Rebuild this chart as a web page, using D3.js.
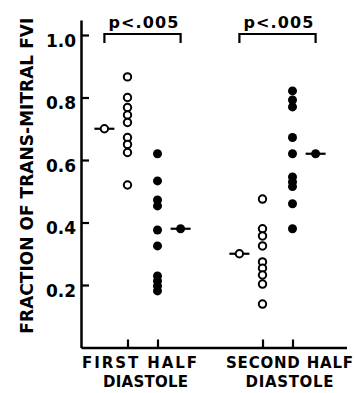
<!DOCTYPE html>
<html>
<head>
<meta charset="utf-8">
<script src="https://cdn.jsdelivr.net/npm/d3@7"></script>
<style>
  body { margin: 0; background: #fff; }
  svg { display: block; }
  text { font-family: "DejaVu Sans", sans-serif; font-weight: bold; fill: #000; }
</style>
</head>
<body>
<svg id="chart" width="356" height="393"></svg>
<script>
const groups = ["FIRST HALF", "SECOND HALF"];
const openFirst = [0.866, 0.80, 0.768, 0.744, 0.72, 0.672, 0.65, 0.624, 0.52];
const filledFirst = [0.62, 0.533, 0.472, 0.453, 0.376, 0.325, 0.229, 0.213, 0.197, 0.181];
const openSecond = [0.475, 0.38, 0.357, 0.325, 0.274, 0.254, 0.232, 0.203, 0.139];
const filledSecond = [0.821, 0.792, 0.77, 0.672, 0.62, 0.546, 0.53, 0.515, 0.46, 0.38];
const meanOpen = [0.70, 0.30];
const meanFilled = [0.38, 0.62];
const yTicks = [0.2, 0.4, 0.6, 0.8, 1.0];
const pLabels = ["p<.005", "p<.005"];

// column positions in x units
const openCol = [1.55, 6.05];
const filledCol = [2.55, 7.05];
const meanOff = 0.77;

const svg = d3.select("#chart");
const x = d3.scaleLinear().domain([0, 8.85]).range([81, 346.5]);
const y = d3.scaleLinear().domain([0, 1.048]).range([347.5, 20]);

// y axis
const yAxis = svg.append("g").attr("transform", `translate(${x(0)},0)`)
  .call(d3.axisLeft(y).tickValues(yTicks).tickSize(-8).tickSizeOuter(0).tickPadding(5)
    .tickFormat(d3.format(".1f")));
yAxis.select(".domain").attr("stroke-width", 2.5);
yAxis.selectAll(".tick line").attr("stroke-width", 2.2);
yAxis.selectAll(".tick text")
  .attr("dy", "0.65em")
  .style("font-size", "17px")
  .style("font-family", "DejaVu Sans")
  .style("font-weight", "bold");

// x axis
const xAxis = svg.append("g").attr("transform", `translate(0,${y(0)})`)
  .call(d3.axisBottom(x).tickValues(openCol.concat(filledCol)).tickSize(-8).tickSizeOuter(0)
    .tickFormat(""));
xAxis.select(".domain").attr("stroke-width", 2.5);
xAxis.selectAll(".tick line").attr("stroke-width", 2.2);

// y title
svg.append("text")
  .attr("transform", `translate(33,${(y(0.55))}) rotate(-90)`)
  .attr("text-anchor", "middle")
  .attr("textLength", 316)
  .attr("lengthAdjust", "spacing")
  .style("font-size", "17px")
  .text("FRACTION  OF  TRANS-MITRAL  FVI");

// points
function openDots(vals, col) {
  svg.append("g").selectAll("circle").data(vals).join("circle")
    .attr("cx", x(col)).attr("cy", d => y(d)).attr("r", 3.7)
    .attr("fill", "#fff").attr("stroke", "#000").attr("stroke-width", 2);
}
function filledDots(vals, col) {
  svg.append("g").selectAll("circle").data(vals).join("circle")
    .attr("cx", x(col)).attr("cy", d => y(d)).attr("r", 4.5)
    .attr("fill", "#000");
}
openDots(openFirst, openCol[0]);
filledDots(filledFirst, filledCol[0]);
openDots(openSecond, openCol[1]);
filledDots(filledSecond, filledCol[1]);

// mean markers
const means = [];
groups.forEach((g, i) => {
  means.push({ pos: openCol[i] - meanOff, v: meanOpen[i], filled: false });
  means.push({ pos: filledCol[i] + meanOff, v: meanFilled[i], filled: true });
});
const mg = svg.append("g").selectAll("g").data(means).join("g")
  .attr("transform", d => `translate(${x(d.pos)},${y(d.v)})`);
mg.append("line").attr("x1", -10).attr("x2", 10)
  .attr("stroke", "#000").attr("stroke-width", 2.2);
mg.append("circle")
  .attr("r", d => d.filled ? 4.5 : 3.7)
  .attr("fill", d => d.filled ? "#000" : "#fff")
  .attr("stroke", "#000").attr("stroke-width", d => d.filled ? 0 : 2);

// significance brackets
groups.forEach((g, i) => {
  const x1 = x(openCol[i] - meanOff), x2 = x(filledCol[i] + meanOff);
  const by = y(1.0) - 1;
  svg.append("path")
    .attr("d", `M${x1},${by + 9}V${by}H${x2}V${by + 9}`)
    .attr("fill", "none").attr("stroke", "#000").attr("stroke-width", 2.2);
  svg.append("text")
    .attr("x", (x1 + x2) / 2 + 1).attr("y", by - 6)
    .attr("text-anchor", "middle")
    .attr("textLength", 70).attr("lengthAdjust", "spacing")
    .style("font-size", "16px")
    .text(pLabels[i]);
});

// category labels
const catCenter = [x((openCol[0] + filledCol[0]) / 2), x((openCol[1] + filledCol[1]) / 2)];
const line1Shift = [-3, 12];
const line2Shift = [3, 12];
const line1Len = [115, 127];
groups.forEach((g, i) => {
  svg.append("text")
    .attr("x", catCenter[i] + line1Shift[i]).attr("y", 368)
    .attr("text-anchor", "middle")
    .attr("textLength", line1Len[i]).attr("lengthAdjust", "spacing")
    .style("font-size", "15px")
    .text(g);
  svg.append("text")
    .attr("x", catCenter[i] + line2Shift[i]).attr("y", 387)
    .attr("text-anchor", "middle")
    .attr("textLength", i === 0 ? 85 : 88).attr("lengthAdjust", "spacing")
    .style("font-size", "15px")
    .text("DIASTOLE");
});
</script>
</body>
</html>
